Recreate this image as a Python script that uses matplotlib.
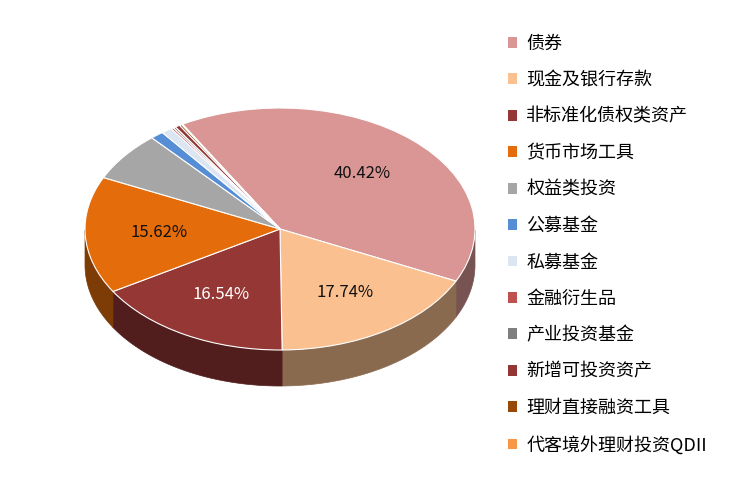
import matplotlib
matplotlib.use("Agg")
import matplotlib.pyplot as plt
import numpy as np
from matplotlib.transforms import Affine2D
from matplotlib.patches import Polygon, Patch
import matplotlib.colors as mc

plt.rcParams['font.family'] = ['Noto Sans CJK SC', 'DejaVu Sans']

labels = ['债券', '现金及银行存款', '非标准化债权类资产', '货币市场工具', '权益类投资', '公募基金',
          '私募基金', '金融衍生品', '产业投资基金', '新增可投资资产', '理财直接融资工具', '代客境外理财投资QDII']
values = [40.42, 17.74, 16.54, 15.62, 6.6, 1.1, 0.9, 0.2, 0.2, 0.4, 0.2, 0.08]
colors = ['#D99694', '#FAC090', '#953735', '#E46C0A', '#A6A6A6', '#558ED5',
          '#DCE6F2', '#C0504D', '#7F7F7F', '#943634', '#984807', '#F79646']
pct_colors = ['#111111', '#111111', 'white', '#111111']

fig = plt.figure(figsize=(7.5, 4.91), dpi=100)
ax = fig.add_axes([0, 0, 1, 1])
ax.set_xlim(0, 750); ax.set_ylim(0, 491); ax.axis('off')

cx, cy, rx, ry, depth = 280, 262, 195, 121, 36
start = 120.0
tr = Affine2D().scale(rx, ry).translate(cx, cy) + ax.transData

total = sum(values)
ang = start
for v, c in zip(values, colors):
    a1 = ang - 360 * v / total
    t = np.linspace(np.radians(a1), np.radians(ang), 100)
    mask = np.sin(t) <= 0
    if mask.any():
        tt = t[mask]
        top = np.column_stack([cx + rx*np.cos(tt), cy + ry*np.sin(tt)])
        bot = top[::-1] - [0, depth]
        dark = np.array(mc.to_rgb(c)) * 0.55
        ax.add_patch(Polygon(np.vstack([top, bot]), closed=True, fc=dark, ec=dark, lw=0.5))
    ang = a1

wedges, texts, autotexts = ax.pie(values, colors=colors, startangle=start, counterclock=False,
                                  autopct=lambda p: f'{p:.2f}%' if p > 10 else '',
                                  pctdistance=0.62, textprops={'fontsize': 12},
                                  wedgeprops={'linewidth': 0.8, 'edgecolor': 'white'})
for w in wedges:
    w.set_transform(tr)
for i, t in enumerate(autotexts):
    x, y = t.get_position()
    t.set_position((cx + rx*x, cy + ry*y))
    t.set_transform(ax.transData)
    if i < 4:
        t.set_color(pct_colors[i])
ax.set_xlim(0, 750); ax.set_ylim(0, 491); ax.set_aspect('auto')

handles = [Patch(fc=c, ec='none') for c in colors]
leg = fig.legend(handles, labels, loc='upper left', bbox_to_anchor=(0.655, 0.962), frameon=False,
                 fontsize=13, handlelength=0.55, handleheight=0.55, handletextpad=0.5, labelspacing=1.02)
for t in leg.get_texts():
    t.set_color('black')
fig.savefig('out.png', dpi=100)
